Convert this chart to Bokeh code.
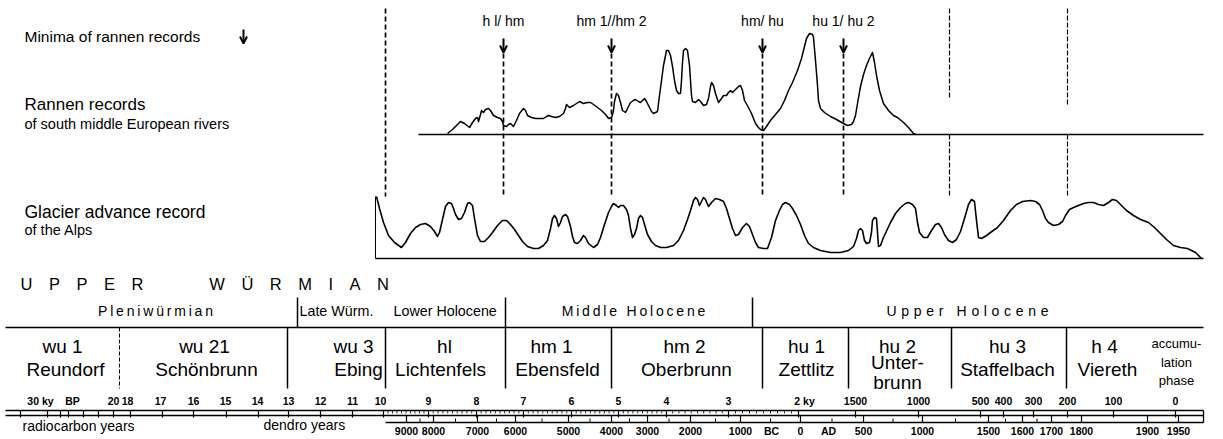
import numpy as np
from bokeh.plotting import figure
from bokeh.models import ColumnDataSource, Range1d, Arrow, OpenHead
from bokeh.core.properties import value
from bokeh.embed import file_html
from bokeh.resources import INLINE

FONT = "Liberation Sans"

# ---------------- data ----------------
# Rannen records: diagram position (time axis) and relative frequency above baseline
rannen_x = [447, 452, 456, 460, 464, 469, 472, 475, 477, 478, 480, 481, 483, 485, 488, 490, 493, 497, 500,
            502, 503, 506, 508, 510, 512, 513, 516, 519, 523, 525, 527, 531, 535, 540, 543, 546, 548, 551,
            555, 559, 563, 565, 566, 568, 569, 571, 573, 576, 579, 581, 583, 587, 590, 593, 597, 601, 605,
            608, 611, 612, 613, 614, 616, 618, 620, 622, 625, 627, 630, 633, 635, 638, 640, 642, 644, 646,
            648, 651, 653, 655, 657, 659, 661, 663, 666, 668, 670, 672, 674, 676, 678, 680, 681, 682, 683,
            685, 687, 689, 690, 691, 692, 695, 698, 700, 703, 706, 708, 710, 711, 713, 715, 718, 721, 723,
            726, 728, 730, 732, 735, 738, 740, 742, 744, 748, 751, 755, 758, 760, 763, 766, 770, 775, 780,
            784, 788, 792, 797, 801, 804, 806, 809, 812, 813, 815, 817, 818, 820, 824, 830, 836, 843, 847,
            851, 853, 855, 857, 860, 863, 866, 869, 872, 874, 876, 879, 883, 888, 893, 897, 903, 908, 913, 915]
rannen_level = [1, 5, 9, 13, 11, 7, 12, 16, 17, 13, 20, 24, 22, 25, 26, 24, 19, 17, 16,
                13, 9, 8, 10, 11, 9, 8, 14, 21, 26, 24, 19, 17, 16, 16, 16, 18, 19, 18,
                17, 18, 21, 26, 30, 28, 27, 28, 29, 31, 33, 32, 31, 32, 32, 30, 27, 24, 20,
                16, 17, 20, 24, 33, 41, 39, 32, 24, 22, 26, 32, 34, 35, 33, 32, 34, 36, 33,
                29, 23, 21, 22, 23, 39, 54, 69, 84, 84, 79, 68, 54, 44, 41, 41, 54, 72, 84,
                86, 84, 69, 54, 39, 33, 32, 35, 33, 29, 30, 36, 48, 52, 49, 41, 32, 36, 39,
                39, 42, 44, 42, 45, 48, 49, 44, 34, 27, 21, 11, 7, 5, 4, 8, 14, 20, 26,
                34, 44, 52, 64, 76, 88, 96, 101, 100, 97, 74, 49, 34, 26, 22, 18, 15, 11, 9,
                10, 13, 19, 31, 48, 60, 69, 76, 82, 72, 59, 44, 31, 24, 19, 17, 12, 7, 1, 0]

# Glacier advance record of the Alps
glacier_x = [376, 379, 383, 388, 394, 401, 405, 410, 415, 420, 425, 430, 434, 437, 439, 442, 445, 448, 451,
             453, 455, 458, 461, 464, 467, 469, 472, 474, 477, 480, 484, 488, 492, 497, 502, 506, 510, 514,
             518, 522, 527, 533, 538, 543, 547, 550, 552, 554, 556, 558, 560, 562, 565, 567, 570, 572, 574,
             577, 580, 583, 585, 588, 593, 597, 600, 604, 608, 611, 613, 616, 618, 620, 623, 626, 628, 630,
             632, 634, 636, 638, 640, 642, 644, 647, 651, 655, 660, 666, 673, 678, 683, 687, 690, 693, 695,
             697, 699, 701, 703, 705, 708, 711, 715, 719, 723, 726, 729, 732, 735, 738, 742, 746, 749, 752,
             755, 758, 763, 767, 771, 775, 779, 782, 785, 789, 792, 796, 800, 804, 808, 813, 820, 830, 840,
             848, 853, 856, 858, 860, 862, 864, 866, 869, 871, 872, 874, 876, 877, 878, 880, 883, 890, 895,
             900, 905, 908, 912, 915, 917, 919, 923, 927, 931, 935, 938, 941, 944, 948, 952, 956, 960, 964,
             968, 971, 974, 976, 978, 981, 986, 990, 997, 1003, 1010, 1016, 1022, 1030, 1035, 1039, 1042,
             1045, 1048, 1053, 1058, 1062, 1065, 1069, 1073, 1078, 1083, 1088, 1093, 1098, 1103, 1108, 1112,
             1116, 1120, 1126, 1133, 1140, 1148, 1154, 1160, 1166, 1173, 1180, 1187, 1195, 1201]
glacier_level = [62, 50, 36, 23, 16, 11, 16, 25, 31, 34, 35, 32, 27, 22, 26, 39, 52, 56, 55,
                 50, 44, 39, 40, 46, 55, 56, 53, 40, 23, 17, 17, 21, 26, 33, 38, 38, 34, 29,
                 23, 17, 12, 10, 10, 13, 18, 30, 40, 43, 40, 32, 36, 42, 44, 42, 32, 22, 16,
                 15, 18, 23, 21, 15, 11, 14, 21, 34, 46, 52, 55, 53, 51, 53, 53, 49, 43, 30,
                 21, 24, 30, 40, 43, 41, 34, 24, 17, 13, 11, 11, 13, 18, 28, 39, 48, 58, 61,
                 59, 53, 57, 61, 59, 52, 56, 60, 59, 57, 50, 40, 30, 23, 24, 31, 35, 32, 24,
                 16, 11, 10, 10, 21, 38, 48, 54, 56, 54, 50, 43, 34, 23, 15, 11, 8, 6, 6,
                 8, 12, 20, 28, 30, 28, 18, 15, 16, 26, 38, 41, 40, 26, 12, 13, 21, 36, 45,
                 51, 55, 56, 54, 50, 36, 26, 21, 21, 28, 34, 35, 31, 24, 18, 16, 19, 27, 40,
                 54, 59, 57, 38, 21, 20, 23, 26, 31, 38, 48, 54, 57, 58, 57, 54, 48,
                 40, 36, 33, 34, 37, 43, 49, 51, 53, 55, 56, 56, 54, 53, 56, 59,
                 58, 54, 48, 43, 39, 36, 31, 25, 19, 13, 11, 10, 6, 0]

minima_labels = ["h l/ hm", "hm 1//hm 2", "hm/ hu", "hu 1/ hu 2"]
minima_x = [503, 611, 762, 843]
frame_x = [385, 949, 1067]

upper_wurmian_words = ["UPPER", "W\u00dcRMIAN"]

period_spaced = ["Pleniw\u00fcrmian", "Middle Holocene", "Upper Holocene"]
period_spaced_x = [155, 633, 967]
period_plain = ["Late W\u00fcrm.", "Lower Holocene"]
period_plain_x = [299, 393]
period_bounds_x = [297, 505, 752]

stage_top = ["wu 1", "wu 21", "wu 3", "hl", "hm 1", "hm 2", "hu 1", "hu 2", "hu 3", "h 4"]
stage_top_x = [62, 204, 353, 444, 551, 684, 806, 897, 1007, 1104]
stage_bottom = ["Reundorf", "Sch\u00f6nbrunn", "Ebing", "Lichtenfels", "Ebensfeld", "Oberbrunn",
                "Zettlitz", "Staffelbach", "Viereth"]
stage_bottom_x = [65, 206, 358, 440, 557, 686, 806, 1007, 1107]
stage_split = ["Unter-", "brunn"]
stage_split_x = 897
accum_lines = ["accumu-", "lation", "phase"]
accum_x = 1176
stage_bounds_x = [287, 385, 505, 611, 762, 848, 951, 1066]
stage_dashed_x = [119]

rc_labels = ["30 ky", "BP", "20", "18", "17", "16", "15", "14", "13", "12", "11", "10", "9", "8", "7",
             "6", "5", "4", "3", "2 ky", "1500", "1000", "500", "400", "300", "200", "100", "0"]
rc_label_x = [40, 72, 113, 127, 160, 193, 225, 257, 288, 320, 352, 380, 428, 476, 523,
              571, 618, 666, 728, 804, 855, 918, 980, 1003, 1033, 1067, 1113, 1175]
rc_tick_x = [20, 47, 60, 68, 83, 98, 113, 130, 162, 193, 226, 258, 288, 320, 352, 383, 428, 476, 523,
             571, 618, 666, 728, 798, 855, 918, 980, 1003, 1033, 1067, 1113, 1175]
rc_fine_x = [383, 428, 476, 523, 571, 618, 666, 728, 798]

dendro_labels = ["9000", "8000", "7000", "6000", "5000", "4000", "3000", "2000", "1000", "BC", "0",
                 "AD", "500", "1000", "1500", "1600", "1700", "1800", "1900", "1950"]
dendro_label_x = [406, 433, 477, 515, 568, 611, 647, 690, 740, 771, 800, 828, 863, 922, 988,
                  1022, 1051, 1081, 1147, 1178]
dendro_tick_x = [406, 433, 477, 515, 568, 611, 647, 690, 740, 800, 863, 922, 988, 1022, 1051, 1081,
                 1147, 1178]

# ---------------- layout constants (pixel rows of the diagram) ----------------
RANNEN_BASE = 134
GLACIER_BASE = 258
W, H = 1223, 439

p = figure(width=W, height=H, x_range=Range1d(0, W), y_range=Range1d(H, 0),
           output_backend="svg", toolbar_location=None,
           x_axis_location=None, y_axis_location=None, min_border=0,
           outline_line_color=None, background_fill_color="white", border_fill_color="white")
p.grid.visible = False
p.extra_y_ranges = {"rannen": Range1d(RANNEN_BASE - H, RANNEN_BASE),
                    "glacier": Range1d(GLACIER_BASE - H, GLACIER_BASE)}


def spaced(word_list, letter_gap, word_gap):
    return word_gap.join(letter_gap.join(w) for w in word_list)


def txt(xs, ys, texts, size, align="center", style="normal", baseline="middle"):
    src = ColumnDataSource(dict(x=list(xs), y=list(ys), text=list(texts)))
    p.text(x="x", y="y", text="text", source=src, text_font=value(FONT),
           text_font_size=value(f"{size}px"), text_align=align, text_baseline=baseline,
           text_color="black", text_font_style=style)


def segs(x0, y0, x1, y1, width=1.5, dash="solid", color="black"):
    p.segment(x0=list(x0), y0=list(y0), x1=list(x1), y1=list(y1), line_color=color,
              line_width=width, line_dash=dash)


# ---- left captions ----
txt([24], [36], ["Minima of rannen records"], 15.5, align="left")
txt([24], [104], ["Rannen records"], 17, align="left")
txt([24], [123], ["of south middle European rivers"], 14.5, align="left")
txt([24], [211], ["Glacier advance record"], 17.5, align="left")
txt([24], [229], ["of the Alps"], 14.5, align="left")

# legend arrow
leg_src = ColumnDataSource(dict(x=[243], y0=[29], y1=[43]))
p.add_layout(Arrow(end=OpenHead(size=7, line_width=2, line_color="black"), x_start="x", y_start="y0",
                   x_end="x", y_end="y1", source=leg_src, line_width=2, line_color="black"))

# ---- minima labels and arrows ----
txt(minima_x, [20] * len(minima_x), minima_labels, 14)
arr_src = ColumnDataSource(dict(x=minima_x, y0=[38] * len(minima_x), y1=[52] * len(minima_x)))
p.add_layout(Arrow(end=OpenHead(size=7, line_width=2, line_color="black"), x_start="x", y_start="y0",
                   x_end="x", y_end="y1", source=arr_src, line_width=2, line_color="black"))

# ---- dashed boundaries ----
segs(minima_x, [53] * 4, minima_x, [196] * 4, width=1.7, dash="5 3")
segs([frame_x[0]], [8], [frame_x[0]], [196], width=1.7, dash="5 3")
segs(frame_x[1:], [8, 8], frame_x[1:], [98, 106], width=1.2, dash="5 2")
segs(frame_x[1:], [RANNEN_BASE, RANNEN_BASE], frame_x[1:], [196, 196], width=1.2, dash="5 2")

# ---- rannen record ----
p.line([418, 1203], [0, 0], y_range_name="rannen", line_color="black", line_width=1.6)
p.line(rannen_x, rannen_level, y_range_name="rannen", line_color="black", line_width=1.5,
       line_join="round")

# ---- glacier record ----
p.line([375, 1203], [0, 0], y_range_name="glacier", line_color="black", line_width=1.6)
p.line([375, 375], [0, 62], y_range_name="glacier", line_color="black", line_width=1)
p.line(glacier_x, glacier_level, y_range_name="glacier", line_color="black", line_width=1.6,
       line_join="round")

# ---- UPPER WÜRMIAN ----
txt([20], [283], [spaced(upper_wurmian_words, "\u2003", "\u2003" * 4)], 16.5, align="left")

# ---- period row ----
txt(period_spaced_x[:2], [310, 310],
    [spaced(s.split(" "), "\u2009", "\u2009\u00a0\u2009") for s in period_spaced[:2]], 14)
txt(period_spaced_x[2:], [310],
    [spaced(period_spaced[2].split(" "), "\u2004", "\u2004\u00a0\u2004")], 14)
txt(period_plain_x, [310, 310], period_plain, 14.3, align="left")
segs(period_bounds_x, [297] * 3, period_bounds_x, [327] * 3, width=1.5)
segs([5], [327], [1203], [327], width=1.5)

# ---- stage row ----
segs(stage_bounds_x, [327] * len(stage_bounds_x), stage_bounds_x, [388] * len(stage_bounds_x), width=1.5)
segs(stage_dashed_x, [327], stage_dashed_x, [388], width=1, dash="4 2")
txt(stage_top_x, [346] * len(stage_top_x), stage_top, 19)
txt(stage_bottom_x, [369] * len(stage_bottom_x), stage_bottom, 19)
txt([stage_split_x] * 2, [362, 382], stage_split, 19)
txt([accum_x] * 3, [343, 362, 380], accum_lines, 13)

# ---- time rulers ----
txt(rc_label_x, [400] * len(rc_label_x), rc_labels, 10.5, style="bold")
segs([5, 5], [410, 415], [1203, 1203], [410, 415], width=1.3)
segs(rc_tick_x, [410] * len(rc_tick_x), rc_tick_x, [417] * len(rc_tick_x), width=1.2)
fine = []
for a, b in zip(rc_fine_x[:-1], rc_fine_x[1:]):
    fine.extend(np.linspace(a, b, 11)[1:-1].tolist())
segs(fine, [410] * len(fine), fine, [413] * len(fine), width=0.8)

segs([385], [422], [1203], [422], width=1.3)
segs([1203], [410], [1203], [422], width=1.3)
segs(dendro_tick_x, [415] * len(dendro_tick_x), dendro_tick_x, [422] * len(dendro_tick_x), width=1.2)
mids = [(a + b) / 2 for a, b in zip(dendro_tick_x[:14], dendro_tick_x[1:15])]
segs(mids, [418] * len(mids), mids, [422] * len(mids), width=1)

txt(dendro_label_x, [430] * len(dendro_label_x), dendro_labels, 10.5, style="bold")
txt([22], [425], ["radiocarbon years"], 14, align="left")
txt([263], [424], ["dendro years"], 14, align="left")

open("out.html", "w").write(file_html(p, INLINE))
